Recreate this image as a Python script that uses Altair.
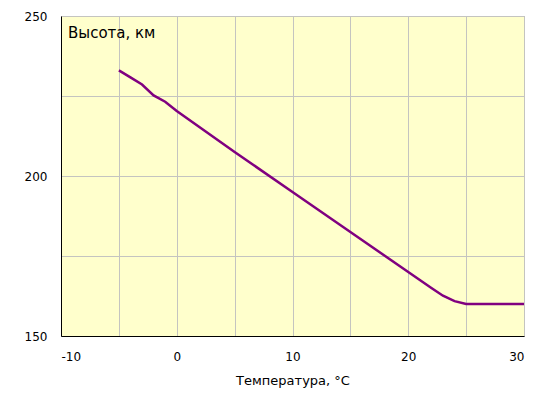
import altair as alt
import pandas as pd

temperature = [-5, -4, -3, -2, -1, 0, 5, 10, 15, 20, 21, 22, 23, 24, 25, 30]
height_km = [233, 230.8, 228.6, 225.2, 223.2, 220.3, 207.5, 195, 182.5, 170,
             167.5, 165, 162.6, 160.9, 160, 160]

x_ticks = [-10, -5, 0, 5, 10, 15, 20, 25, 30]
y_ticks = [150, 175, 200, 225, 250]

df = pd.DataFrame({"t": temperature, "h": height_km})

FONT = "DejaVu Sans"

line = alt.Chart(df).mark_line(color="#800080", strokeWidth=2.5).encode(
    x=alt.X("t:Q",
            scale=alt.Scale(domain=[-10, 30], nice=False, zero=False),
            axis=alt.Axis(values=x_ticks, title="Температура, °С",
                          labelExpr="datum.value % 10 == 0 ? '' + datum.value : ''",
                          labelPadding=15, titlePadding=12)),
    y=alt.Y("h:Q",
            scale=alt.Scale(domain=[150, 250], nice=False, zero=False),
            axis=alt.Axis(values=y_ticks, title=None,
                          labelExpr="datum.value % 50 == 0 ? '' + datum.value : ''",
                          labelPadding=14)),
)

label = alt.Chart(pd.DataFrame({"label": ["Высота, км"]})).mark_text(
    align="left", baseline="alphabetic", fontSize=15, font=FONT, color="black"
).encode(x=alt.value(7), y=alt.value(22), text="label:N")

chart = alt.layer(line, label).properties(
    width=463, height=320,
    autosize=alt.AutoSizeParams(type="none"),
    padding={"left": 53, "top": 8, "right": 1, "bottom": 54},
).configure_view(
    fill="#FFFFCC", stroke="#A0A0A0", strokeWidth=1
).configure_axis(
    labelFont=FONT, titleFont=FONT, labelFontSize=12, titleFontSize=13,
    labelColor="black", titleColor="black", titleFontWeight="normal",
    domainColor="black", domainWidth=1, ticks=False,
    gridColor="#C4C4C0", gridWidth=1, grid=True,
)

chart.save("out.html", embed_options={"renderer": "svg", "actions": False})
